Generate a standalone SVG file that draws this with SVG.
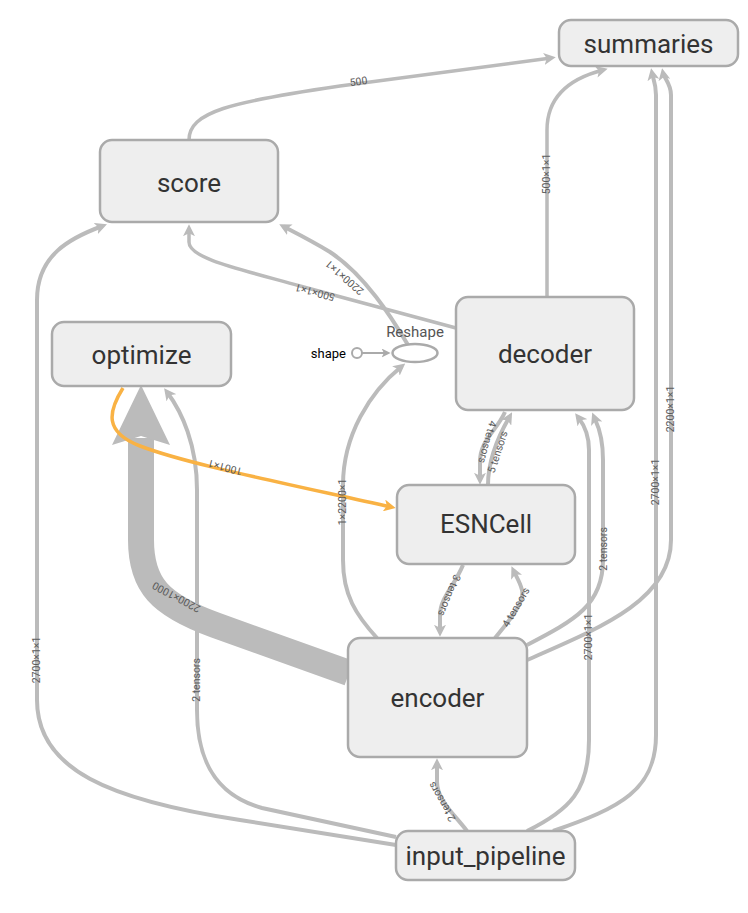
<svg xmlns="http://www.w3.org/2000/svg" width="748" height="913" viewBox="0 0 748 913">
<defs>
<style>
.node rect{fill:#eee;stroke:#aaa;stroke-width:2.5}
.lbl{font-family:Roboto,"Liberation Sans",sans-serif;font-size:26px;fill:#333;text-anchor:middle}
.edge{fill:none;stroke:#bbb;stroke-width:4}
.thin{stroke-width:3.5}
.ref{fill:none;stroke:#f9b244;stroke-width:3.5}
.elbl{font-family:Roboto,"Liberation Sans",sans-serif;font-size:10.5px;fill:#5a5a5a;text-anchor:middle}
</style>
<marker id="ah" viewBox="0 0 10 10" refX="6" refY="5" markerWidth="12" markerHeight="12" markerUnits="userSpaceOnUse" orient="auto">
<path d="M0,0 L10,5 L0,10 L2.5,5 z" fill="#bbb"/>
</marker>
<marker id="ahs" viewBox="0 0 10 10" refX="6" refY="5" markerWidth="9" markerHeight="9" markerUnits="userSpaceOnUse" orient="auto">
<path d="M0,0 L10,5 L0,10 L2.5,5 z" fill="#aaa"/>
</marker>
<marker id="aho" viewBox="0 0 10 10" refX="6" refY="5" markerWidth="12" markerHeight="12" markerUnits="userSpaceOnUse" orient="auto">
<path d="M0,0 L10,5 L0,10 L2.5,5 z" fill="#f9b244"/>
</marker>
</defs>
<g id="connectors">
<path class="edge" d="M349,673 L215,625 C160,605 141,585 141,540 L141,438" style="stroke-width:26"/>
<polygon points="112,445 141,385 170,445 141,436" fill="#bbb"/>
<path class="edge thin" d="M189,140 C189,112 230,102 340,86 L551,58" marker-end="url(#ah)"/>
<path class="edge thin" d="M547,297 L547,130 C547,95 572,78 603,70" marker-end="url(#ah)"/>
<path class="edge" d="M553,831 C620,808 656,790 656,735 L656,95 C656,84 653,78 652,73" marker-end="url(#ah)"/>
<path class="edge" d="M527,660 C600,628 671,600 671,540 L671,95 C671,84 664,78 663,73" marker-end="url(#ah)"/>
<path class="edge" d="M527,645 C575,620 603,605 603,560 L603,460 C603,432 596,422 594,417" marker-end="url(#ah)"/>
<path class="edge" d="M527,831 C570,810 589,790 589,740 L589,450 C589,430 581,421 578,417" marker-end="url(#ah)"/>
<path class="edge thin" d="M456,328 L300,286 C235,268 189,258 189,242 L189,229" marker-end="url(#ah)"/>
<path class="edge" d="M408,345 C392,318 365,275 330,252 C312,241 298,234 283.5,226.5" marker-end="url(#ah)"/>
<path class="edge" d="M377,638 C356,615 343,595 343,560 L343,485 C343,435 370,392 401.5,366.5" marker-end="url(#ah)"/>
<path class="edge" d="M505,412 C496,432 480,440 480,462 L480,480" marker-end="url(#ah)"/>
<path class="edge" d="M488,485 C488,462 496,440 509.7,416.5" marker-end="url(#ah)"/>
<path class="edge" d="M463,565 C455,585 440,598 440,615 L440,632" marker-end="url(#ah)"/>
<path class="edge" d="M495,638 C510,620 525,602 522,590 C520,582 516,576 513.5,570.7" marker-end="url(#ah)"/>
<path class="edge" d="M467,831 C455,815 437,800 437,782 L437,763" marker-end="url(#ah)"/>
<path class="edge" d="M396,845 L240,820 C110,800 37,770 37,700 L37,300 C37,255 70,238 102.5,226" marker-end="url(#ah)"/>
<path class="edge" d="M396,837 L262,808 C215,795 197,760 197,710 L197,490 C197,445 182,412 167,392" marker-end="url(#ah)"/>
<path class="ref" d="M123,388 C108,412 104,432 140,446 C185,463 260,478 391,507" marker-end="url(#aho)"/>
<line x1="362" y1="353" x2="387" y2="353" stroke="#aaa" stroke-width="2" marker-end="url(#ahs)"/>
<text class="elbl" transform="translate(359,85) rotate(-7.6)">500</text>
<text class="elbl" transform="translate(550,174) rotate(-90)">500×1×1</text>
<text class="elbl" transform="translate(659,482) rotate(-90)">2700×1×1</text>
<text class="elbl" transform="translate(674,409) rotate(-90)">2200×1×1</text>
<text class="elbl" transform="translate(607,549) rotate(-90)">2 tensors</text>
<text class="elbl" transform="translate(592,637) rotate(-90)">2700×1×1</text>
<text class="elbl" transform="translate(316,289) rotate(195)">500×1×1</text>
<text class="elbl" transform="translate(347,275) rotate(221)">2200×1×1</text>
<text class="elbl" transform="translate(346,502) rotate(-90)">1×2200×1</text>
<text class="elbl" transform="translate(484,441) rotate(105)">4 tensors</text>
<text class="elbl" transform="translate(501,453) rotate(-72)">5 tensors</text>
<text class="elbl" transform="translate(446,594) rotate(112)">3 tensors</text>
<text class="elbl" transform="translate(519,609) rotate(-60)">4 tensors</text>
<text class="elbl" transform="translate(445,800) rotate(240)">2 tensors</text>
<text class="elbl" transform="translate(40,660) rotate(-90)">2700×1×1</text>
<text class="elbl" transform="translate(200,680) rotate(-90)">2 tensors</text>
<text class="elbl" transform="translate(178,594) rotate(208)">2200×1000</text>
<text class="elbl" transform="translate(226,464) rotate(195)">1001×1</text>
</g>
<g id="summaries" class="node"><rect x="559" y="20" width="179" height="46" rx="12"/><text class="lbl" x="648.5" y="53">summaries</text></g>
<g id="score" class="node"><rect x="100" y="140" width="178" height="82" rx="12"/><text class="lbl" x="189" y="192">score</text></g>
<g id="optimize" class="node"><rect x="52" y="322" width="179" height="64" rx="12"/><text class="lbl" x="141.5" y="364">optimize</text></g>
<g id="decoder" class="node"><rect x="456" y="297" width="178" height="113" rx="12"/><text class="lbl" x="545" y="363">decoder</text></g>
<g id="ESNCell" class="node"><rect x="397" y="485" width="178" height="79" rx="12"/><text class="lbl" x="486" y="533">ESNCell</text></g>
<g id="encoder" class="node"><rect x="348" y="638" width="179" height="119" rx="12"/><text class="lbl" x="437.5" y="707">encoder</text></g>
<g id="input_pipeline" class="node"><rect x="396" y="831" width="179" height="49" rx="12"/><text class="lbl" x="485.5" y="865">input_pipeline</text></g>
<g id="Reshape">
<ellipse cx="415" cy="353" rx="22.5" ry="9" fill="#fff" stroke="#aaa" stroke-width="2.5"/>
<text x="415" y="337" style="font-family:Roboto,'Liberation Sans',sans-serif;font-size:15px;fill:#555;text-anchor:middle">Reshape</text>
</g>
<g id="shape">
<circle cx="357" cy="353" r="5" fill="#fff" stroke="#aaa" stroke-width="2"/>
<text x="346" y="358" style="font-family:Roboto,'Liberation Sans',sans-serif;font-size:13px;fill:#000;text-anchor:end">shape</text>
</g>
</svg>
